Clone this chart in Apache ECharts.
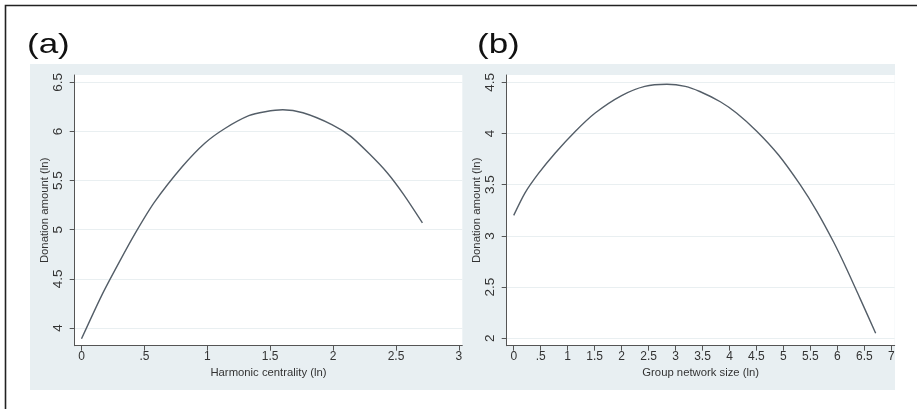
<!DOCTYPE html>
<html><head><meta charset="utf-8">
<script src="https://cdn.jsdelivr.net/npm/echarts@6/dist/echarts.min.js"></script>
<style>html,body{margin:0;padding:0;background:#fff}#c{width:917px;height:409px}</style>
</head><body><div id="c"></div>
<script>
// ---- data ----
const panelTitles = ['(a)', '(b)'];
const xNameA = 'Harmonic centrality (ln)';
const xNameB = 'Group network size (ln)';
const yName = 'Donation amount (ln)';
const xTicksA = [0, 0.5, 1, 1.5, 2, 2.5, 3];
const yTicksA = [4, 4.5, 5, 5.5, 6, 6.5];
const xTicksB = [0, 0.5, 1, 1.5, 2, 2.5, 3, 3.5, 4, 4.5, 5, 5.5, 6, 6.5, 7];
const yTicksB = [2, 2.5, 3, 3.5, 4, 4.5];
const centralityX = [0, 0.16, 0.30, 0.43, 0.58, 0.80, 0.98, 1.14, 1.33, 1.46, 1.60, 1.76, 1.99, 2.14, 2.29, 2.43, 2.56, 2.71];
const donationA   = [3.89, 4.33, 4.67, 4.97, 5.28, 5.64, 5.88, 6.03, 6.16, 6.20, 6.22, 6.19, 6.07, 5.95, 5.77, 5.58, 5.36, 5.07];
const networkX  = [0, 0.21, 0.46, 0.77, 1.14, 1.51, 2.00, 2.43, 2.84, 3.18, 3.45, 3.83, 4.13, 4.51, 4.91, 5.31, 5.62, 5.93, 6.17, 6.42, 6.71];
const donationB = [3.20, 3.42, 3.61, 3.81, 4.02, 4.20, 4.37, 4.46, 4.48, 4.46, 4.41, 4.31, 4.20, 4.02, 3.79, 3.50, 3.24, 2.94, 2.68, 2.39, 2.05];

// ---- chart ----
const FONT = '"Liberation Sans", Arial, sans-serif';
const fmt = v => { const s = String(v); return s.startsWith('0.') ? s.slice(1) : s; };
const pair = (xs, ys) => xs.map((x, i) => [x, ys[i]]);

function xAxis(gi, min, max, ticks, name) {
  return {
    type: 'value', gridIndex: gi, min, max,
    name, nameLocation: 'middle', nameGap: 17,
    nameTextStyle: { fontFamily: FONT, fontSize: 11.3, color: '#333' },
    axisLine: { show: true, onZero: false, lineStyle: { color: '#555', width: 1 } },
    axisTick: { show: true, length: 5, customValues: ticks, lineStyle: { color: '#555' } },
    axisLabel: { customValues: ticks, formatter: fmt, margin: 5, fontFamily: FONT, fontSize: 12, color: '#333' },
    splitLine: { show: false }
  };
}
function yAxis(gi, min, max, ticks) {
  return {
    type: 'value', gridIndex: gi, min, max,
    name: yName, nameLocation: 'middle', nameGap: 21, nameRotate: 90,
    nameTextStyle: { fontFamily: FONT, fontSize: 11.3, color: '#333' },
    axisLine: { show: true, onZero: false, lineStyle: { color: '#555', width: 1 } },
    axisTick: { show: true, length: 5, customValues: ticks, lineStyle: { color: '#555' } },
    axisLabel: { customValues: ticks, formatter: fmt, rotate: 90, margin: 9, fontFamily: FONT, fontSize: 13.5, color: '#333' },
    splitLine: { show: true, lineStyle: { color: '#e9eff1', width: 1 } }
  };
}

const chart = echarts.init(document.getElementById('c'), null, { renderer: 'canvas' });
chart.setOption({
  animation: false,
  backgroundColor: '#fff',
  graphic: [
    { type: 'rect', z: -100, silent: true, shape: { x: 30, y: 64, width: 865, height: 326 }, style: { fill: '#e8eff2' } },
    { type: 'rect', z: 100, silent: true, shape: { x: 5.5, y: 5.5, width: 1000, height: 1000 }, style: { fill: 'none', stroke: '#222', lineWidth: 1.6 } },
    { type: 'text', z: 100, left: 27, top: 31, style: { text: panelTitles[0], font: '28px ' + FONT, fill: '#111' }, scaleX: 1.25 },
    { type: 'text', z: 100, left: 477, top: 31, style: { text: panelTitles[1], font: '28px ' + FONT, fill: '#111' }, scaleX: 1.25 }
  ],
  grid: [
    { left: 74.7, top: 75, width: 387.6, height: 270.7, show: true, backgroundColor: '#fff', borderWidth: 0, containLabel: false },
    { left: 506.7, top: 75, width: 388, height: 270.7, show: true, backgroundColor: '#fff', borderWidth: 0, containLabel: false }
  ],
  xAxis: [
    xAxis(0, -0.054, 3.027, xTicksA, xNameA),
    xAxis(1, -0.130, 7.063, xTicksB, xNameB)
  ],
  yAxis: [
    yAxis(0, 3.82, 6.574, yTicksA),
    yAxis(1, 1.928, 4.571, yTicksB)
  ],
  series: [
    { type: 'line', xAxisIndex: 0, yAxisIndex: 0, data: pair(centralityX, donationA), showSymbol: false, smooth: 0.25,
      lineStyle: { color: '#545e68', width: 1.4 } },
    { type: 'line', xAxisIndex: 1, yAxisIndex: 1, data: pair(networkX, donationB), showSymbol: false, smooth: 0.25,
      lineStyle: { color: '#545e68', width: 1.4 } }
  ]
});
</script>
</body></html>
